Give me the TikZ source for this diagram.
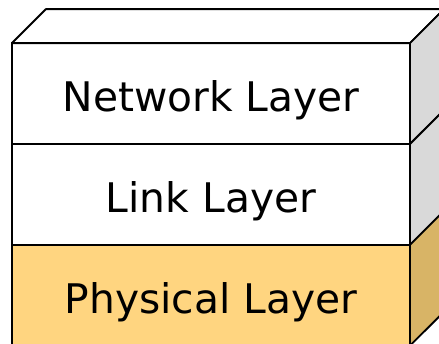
\documentclass[tikz,border=0pt]{standalone}
\usepackage{fontspec}
\setmainfont{DejaVu Sans}
\usepackage{tikz}
\usetikzlibrary{positioning}

\definecolor{physfront}{RGB}{255,213,128}
\definecolor{physside}{RGB}{216,180,102}
\definecolor{sidegray}{RGB}{217,217,217}

\tikzset{
  layerbox/.style={draw,line width=1.3pt,rectangle,outer sep=0pt,
    minimum width=9.95cm,minimum height=2.52cm,
    text height=26pt,text depth=0pt,
    font=\fontsize{29}{35}\selectfont},
  face/.style={draw,line width=1.3pt,line join=round}
}

\begin{document}
\begin{tikzpicture}[x=0.025cm,y=-0.025cm]
\clip (0,0) rectangle (439,343);

% Front faces of the stack
\node[layerbox,fill=white] (net) at (211,93.5) {Network Layer};
\node[layerbox,fill=white,below=0pt of net] (link) {Link Layer};
\node[layerbox,fill=physfront,below=0pt of link] (phys) {Physical Layer};

% Top face
\draw[face,fill=white] (net.north west) -- ++(34,-34) -- ++(398,0)
  -- (net.north east) -- cycle;

% Side faces
\foreach \lay/\col in {net/sidegray,link/sidegray,phys/physside} {
    \draw[face,fill=\col] (\lay.north east) -- ++(34,-34) -- ++(0,101)
      -- (\lay.south east) -- cycle;
}
\end{tikzpicture}
\end{document}
